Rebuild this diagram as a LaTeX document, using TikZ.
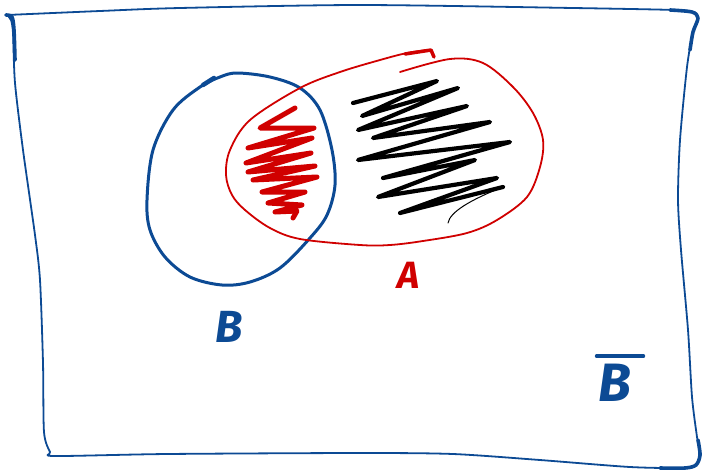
\documentclass[tikz,border=0pt]{standalone}
\usepackage{fontspec}
\setmainfont{Fira Sans}
\definecolor{penblue}{RGB}{12,74,148}
\definecolor{penred}{RGB}{208,0,0}

\begin{document}
\begin{tikzpicture}[x=1pt,y=-1pt,line cap=round,line join=round,
  frame/.style={draw=penblue,line width=1.8pt},
  frameheavy/.style={draw=penblue,line width=3.6pt},
  setB/.style={draw=penblue,line width=3pt},
  setA/.style={draw=penred,line width=1.8pt},
  hatchred/.style={draw=penred,line width=5pt},
  hatchblack/.style={draw=black,line width=4.2pt},
  lbl/.style={inner sep=0pt,font=\bfseries\itshape}]

\useasboundingbox (0,0) rectangle (703,471);

% sample space frame
\draw[frame] plot[smooth,tension=0.45] coordinates {
  (7,15) (100,11) (180,8) (360,5) (573,8) (675,10) (692,12) (698,18)
  (693,32) (687,67) (680,140) (678,200) (681,250) (688,330) (692,397)
  (697,437) (700,455) (696,465) (685,468) (630,467) (540,460) (453,454)
  (360,453) (167,454) (55,456) (50,452) (44,432) (43,363) (40,280)
  (35,235) (23,150) (15,83) (13,33) (11,20) (7,15)};
\draw[frameheavy] plot[smooth,tension=0.5] coordinates {(6,15) (12,17) (14,30) (15,60)};
\draw[frameheavy] plot[smooth,tension=0.5] coordinates {(670,10) (692,12) (698,18) (693,32) (690,50)};
\draw[frameheavy] plot[smooth,tension=0.5] coordinates {(698,440) (700,455) (696,465) (685,468) (660,468)};

% set B
\draw[setB] plot[smooth cycle,tension=0.55] coordinates {
  (237,73) (270,77) (300,88) (320,110) (332,150) (335,185) (327,215)
  (310,238) (280,268) (250,282) (222,285) (190,277) (165,257) (150,230)
  (147,200) (153,150) (173,110) (200,87) (220,77)};
\draw[setB,line width=4.5pt] (203,85) -- (214,78);

% set A
\draw[setA] plot[smooth,tension=0.55] coordinates {
  (400,72) (450,59) (483,63) (513,87) (533,113) (543,140) (540,167)
  (527,197) (497,220) (467,233) (423,241) (390,245) (360,245) (300,239)
  (270,228) (245,210) (232,195) (226,175) (230,150) (250,120) (300,88)
  (340,72) (380,60) (407,53) (428,50)};
\draw[setA,line width=3.5pt] (405,54) -- (431,50) -- (434,57);

% shading of the intersection
\draw[hatchred] plot coordinates {
  (295,108) (260,128) (314,128) (248,148) (312,138) (246,163) (311,153)
  (248,172) (315,166) (253,180) (317,177) (262,192) (305,192) (268,203)
  (302,205) (275,212) (297,211) (293,218)};

% shading of A outside B
\draw[hatchblack] plot coordinates {
  (353,103) (437,81) (362,116) (458,88) (358,130) (467,106) (373,138)
  (490,122) (358,160) (510,142) (383,178) (475,160) (378,197) (497,178)
  (400,213) (503,187)};
\draw[black,line width=1pt] (503,187) .. controls (470,200) and (450,212) .. (448,223);

% labels
\node[lbl,text=penred,font=\fontsize{38}{38}\selectfont\bfseries\itshape] (labA) at (409,275) {A};
\node[lbl,text=penblue,font=\fontsize{45}{45}\selectfont\bfseries\itshape] (labB) at (229,327) {B};
\node[lbl,text=penblue,font=\fontsize{54}{54}\selectfont\bfseries\itshape] (labBc) at (615,383) {B};
\draw[penblue,line width=3.2pt] ([xshift=-2pt,yshift=8pt]labBc.north west) -- ([xshift=12pt,yshift=8pt]labBc.north east);
\end{tikzpicture}
\end{document}
